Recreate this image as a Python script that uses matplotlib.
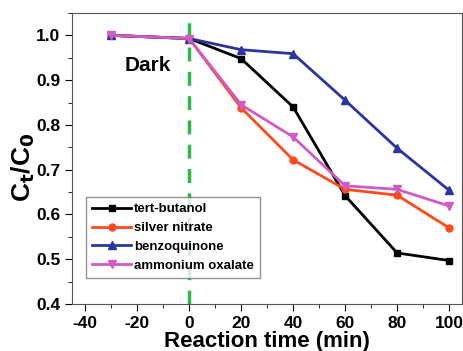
import matplotlib.pyplot as plt
from matplotlib.ticker import MultipleLocator

plt.rcParams['font.family'] = 'Liberation Sans'
plt.rcParams['font.weight'] = 'bold'
plt.rcParams['axes.unicode_minus'] = False

time = [-30, 0, 20, 40, 60, 80, 100]
tert_butanol = [1.0, 0.993, 0.948, 0.840, 0.642, 0.514, 0.497]
silver_nitrate = [1.0, 0.993, 0.838, 0.722, 0.656, 0.643, 0.570]
benzoquinone = [1.0, 0.993, 0.968, 0.959, 0.855, 0.748, 0.654]
ammonium_oxalate = [1.0, 0.993, 0.845, 0.773, 0.664, 0.656, 0.619]

fig, ax = plt.subplots(figsize=(4.63, 3.51), dpi=100)
fig.subplots_adjust(left=0.156, right=0.998, top=0.963, bottom=0.134)

ax.plot(time, tert_butanol, color='black', marker='s', ms=5, lw=2, label='tert-butanol')
ax.plot(time, silver_nitrate, color='#FF4A1C', marker='o', ms=5, lw=2, label='silver nitrate')
ax.plot(time, benzoquinone, color='#2B35A0', marker='^', ms=6, lw=2, label='benzoquinone')
ax.plot(time, ammonium_oxalate, color='#D05BC4', marker='v', ms=6, lw=2, label='ammonium oxalate')

ax.axvline(0, color='#2DB84A', ls=(0, (4, 3)), lw=2.5, zorder=0)
ax.text(-16, 0.932, 'Dark', fontsize=15, fontweight='bold', ha='center', va='center')

ax.set_xlim(-45, 105)
ax.set_ylim(0.4, 1.05)
ax.xaxis.set_major_locator(MultipleLocator(20))
ax.xaxis.set_minor_locator(MultipleLocator(10))
ax.yaxis.set_major_locator(MultipleLocator(0.1))
ax.yaxis.set_minor_locator(MultipleLocator(0.05))
ax.tick_params(which='both', direction='out', labelsize=12.5)
ax.tick_params(which='major', length=5)
ax.tick_params(which='minor', length=3)
for lbl in ax.get_xticklabels() + ax.get_yticklabels():
    lbl.set_fontweight('bold')
for s in ax.spines.values():
    s.set_color('#555555')

ax.set_xlabel('Reaction time (min)', fontsize=16, fontweight='bold', labelpad=0)
ax.set_ylabel('C$_\\mathbf{t}$/C$_\\mathbf{0}$', fontsize=19, fontweight='bold')
ax.yaxis.set_label_coords(-0.09, 0.47)

leg = ax.legend(loc='lower left', bbox_to_anchor=(0.018, 0.065), frameon=True,
                fancybox=False, edgecolor='#777777', handlelength=2.9, borderpad=0.5,
                labelspacing=0.5, handletextpad=0.25, prop={'weight': 'bold', 'size': 9.5})
leg.get_frame().set_linewidth(1)

fig.savefig('out.png', dpi=100)
